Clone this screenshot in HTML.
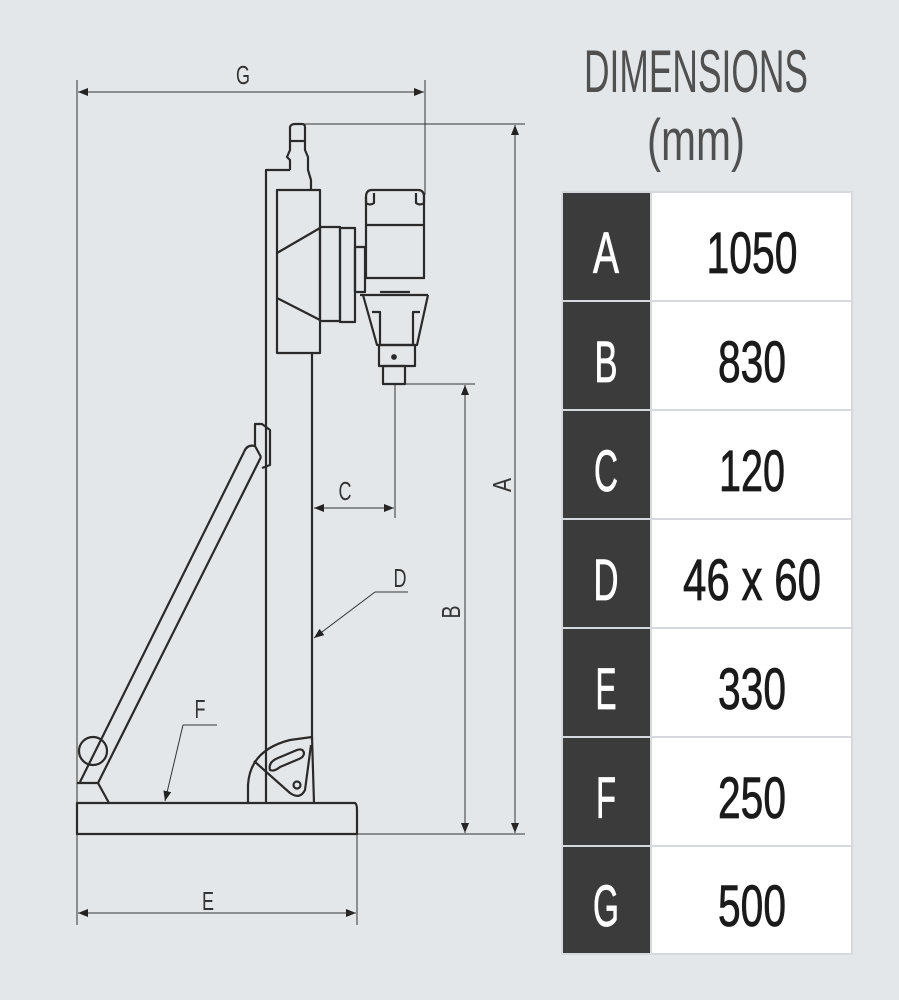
<!DOCTYPE html>
<html><head><meta charset="utf-8"><style>
html,body{margin:0;padding:0;background:#e4e7ea;}
svg{display:block;}
</style></head><body>
<svg width="899" height="1000" viewBox="0 0 899 1000" xmlns="http://www.w3.org/2000/svg">
<rect width="899" height="1000" fill="#e4e7ea"/>
<defs>
<marker id="ar" markerWidth="10" markerHeight="8" refX="10" refY="4" orient="auto" markerUnits="userSpaceOnUse">
<path d="M0,0 L10,4 L0,8 Z" fill="#222"/></marker>
</defs>
<g stroke="#333" stroke-width="1" fill="none">
<line x1="77" y1="80" x2="77" y2="925"/>
<line x1="425" y1="80" x2="425" y2="195"/>
<line x1="357" y1="835" x2="357" y2="925"/>
<line x1="300" y1="124" x2="525" y2="124"/>
<line x1="357" y1="834" x2="525" y2="834"/>
<line x1="395" y1="384" x2="475" y2="384"/>
<line x1="395" y1="384" x2="395" y2="518"/>
<line x1="78" y1="92" x2="424" y2="92" marker-end="url(#ar)"/>
<line x1="424" y1="92" x2="78" y2="92" marker-end="url(#ar)"/>
<line x1="78" y1="913" x2="356" y2="913" marker-end="url(#ar)"/>
<line x1="356" y1="913" x2="78" y2="913" marker-end="url(#ar)"/>
<line x1="515" y1="125" x2="515" y2="833" marker-end="url(#ar)"/>
<line x1="515" y1="833" x2="515" y2="125" marker-end="url(#ar)"/>
<line x1="465" y1="385" x2="465" y2="833" marker-end="url(#ar)"/>
<line x1="465" y1="833" x2="465" y2="385" marker-end="url(#ar)"/>
<line x1="314" y1="508" x2="394" y2="508" marker-end="url(#ar)"/>
<line x1="394" y1="508" x2="314" y2="508" marker-end="url(#ar)"/>
<line x1="408" y1="592" x2="375" y2="592"/>
<line x1="375" y1="592" x2="314" y2="638" marker-end="url(#ar)"/>
<line x1="217" y1="725" x2="183" y2="725"/>
<line x1="183" y1="725" x2="165" y2="801" marker-end="url(#ar)"/>
</g>
<g stroke="#2a2a2a" stroke-width="2.2" fill="none" stroke-linejoin="round">
<path d="M77,803 L355,803 Q357,804 357,810 L357,834 L77,834 Z"/>
<path d="M266,803 L266,170 L290,170"/>
<line x1="312" y1="353" x2="312" y2="740"/>
<path d="M290,170 L290,160 L287,157 L290,150 L290,127 Q291,124 295,124 L302,124 Q305,124 305,127 L305,150 L308,157 L308,170 L311,180 L311,190"/>
<line x1="290" y1="141" x2="305" y2="141"/>
<rect x="277" y="190" width="43" height="163"/>
<line x1="320" y1="228" x2="277" y2="253"/>
<line x1="277" y1="298" x2="320" y2="320"/>
<rect x="320" y="227" width="20" height="94"/>
<rect x="340" y="228" width="15" height="94"/>
<rect x="355" y="247" width="10" height="45"/>
<path d="M366,278 L366,197 Q366,190 372,190 L418,190 Q424,190 424,197 L424,278"/>
<path d="M366,197 L366,203 Q370,206 374,203 L374,193"/>
<path d="M424,197 L424,203 Q420,206 416,203 L416,193"/>
<line x1="366" y1="225" x2="424" y2="225"/>
<line x1="366" y1="278" x2="425" y2="278"/>
<line x1="360" y1="295" x2="428" y2="295"/>
<line x1="380" y1="292" x2="410" y2="292"/>
<path d="M363,295 L377,345 L417,345 L428,295"/>
<path d="M372,312 L380,312 L380,345 M420,312 L413,312 L413,345"/>
<rect x="379" y="345" width="36" height="21"/>
<rect x="383" y="366" width="22" height="18"/>
<circle cx="394" cy="357" r="1.8" fill="#2a2a2a"/>
<path d="M248,803 L248,785 Q250,750 290,740 L312,737 L314,803"/>
<path d="M254,761 L290,793 Q300,800 305,790 L311,745"/>
<path d="M270,770 Q268,762 278,758 L297,750 Q303,748 304,753 Q304,757 299,759 L280,767 Q274,772 270,770 Z"/>
<circle cx="297" cy="785" r="3.5"/>
<line x1="80" y1="782" x2="244" y2="452"/>
<line x1="98" y1="783" x2="261" y2="457"/>
<path d="M244,452 Q247,444 255,446 L261,457"/>
<path d="M255,446 L255,424 L262,424 L270,430 L270,465 L262,468"/>
<circle cx="93" cy="751" r="14"/>
<path d="M77,783 L98,783 L109,803"/>
</g>
<g font-family="'Liberation Sans',sans-serif" fill="#333" font-size="26">
<text x="243" y="84" text-anchor="middle" textLength="14" lengthAdjust="spacingAndGlyphs">G</text>
<text x="208" y="910" text-anchor="middle" textLength="12" lengthAdjust="spacingAndGlyphs">E</text>
<text x="345" y="500" text-anchor="middle" textLength="13" lengthAdjust="spacingAndGlyphs">C</text>
<text x="400" y="587" text-anchor="middle" textLength="13" lengthAdjust="spacingAndGlyphs">D</text>
<text x="200" y="718" text-anchor="middle" textLength="11" lengthAdjust="spacingAndGlyphs">F</text>
<text transform="translate(511,485) rotate(-90)" text-anchor="middle" textLength="14" lengthAdjust="spacingAndGlyphs">A</text>
<text transform="translate(460,612) rotate(-90)" text-anchor="middle" textLength="13" lengthAdjust="spacingAndGlyphs">B</text>
</g>
<g font-family="'Liberation Sans',sans-serif">
<text x="696" y="92" text-anchor="middle" font-size="60" fill="#505050" textLength="224" lengthAdjust="spacingAndGlyphs">DIMENSIONS</text>
<text x="696" y="160" text-anchor="middle" font-size="58" fill="#505050" textLength="98" lengthAdjust="spacingAndGlyphs">(mm)</text>
</g>
<rect x="561" y="191" width="292" height="764" fill="#d5d9dd"/>
<g font-family="'Liberation Sans',sans-serif" font-size="58" text-anchor="middle">
<g fill="#3b3b3b">
<rect x="563" y="193" width="87" height="107"/><rect x="563" y="302" width="87" height="107"/><rect x="563" y="411" width="87" height="107"/><rect x="563" y="520" width="87" height="107"/><rect x="563" y="629" width="87" height="107"/><rect x="563" y="738" width="87" height="107"/><rect x="563" y="847" width="87" height="106"/>
</g>
<g fill="#fff">
<rect x="652" y="193" width="199" height="107"/><rect x="652" y="302" width="199" height="107"/><rect x="652" y="411" width="199" height="107"/><rect x="652" y="520" width="199" height="107"/><rect x="652" y="629" width="199" height="107"/><rect x="652" y="738" width="199" height="107"/><rect x="652" y="847" width="199" height="106"/>
</g>
<g fill="#fff" stroke="#fff" stroke-width="0.8">
<text x="606" y="273" textLength="26" lengthAdjust="spacingAndGlyphs">A</text>
<text x="606" y="382" textLength="23" lengthAdjust="spacingAndGlyphs">B</text>
<text x="606" y="491" textLength="24" lengthAdjust="spacingAndGlyphs">C</text>
<text x="606" y="600" textLength="25" lengthAdjust="spacingAndGlyphs">D</text>
<text x="606" y="709" textLength="21" lengthAdjust="spacingAndGlyphs">E</text>
<text x="606" y="818" textLength="20" lengthAdjust="spacingAndGlyphs">F</text>
<text x="606" y="926" textLength="26" lengthAdjust="spacingAndGlyphs">G</text>
</g>
<g fill="#1a1a1a" stroke="#1a1a1a" stroke-width="0.8">
<text x="752" y="273" textLength="91" lengthAdjust="spacingAndGlyphs">1050</text>
<text x="752" y="382" textLength="68" lengthAdjust="spacingAndGlyphs">830</text>
<text x="752" y="491" textLength="66" lengthAdjust="spacingAndGlyphs">120</text>
<text x="752" y="600" textLength="138" lengthAdjust="spacingAndGlyphs">46 x 60</text>
<text x="752" y="709" textLength="68" lengthAdjust="spacingAndGlyphs">330</text>
<text x="752" y="818" textLength="68" lengthAdjust="spacingAndGlyphs">250</text>
<text x="752" y="926" textLength="68" lengthAdjust="spacingAndGlyphs">500</text>
</g>
</g>
</svg>
</body></html>
